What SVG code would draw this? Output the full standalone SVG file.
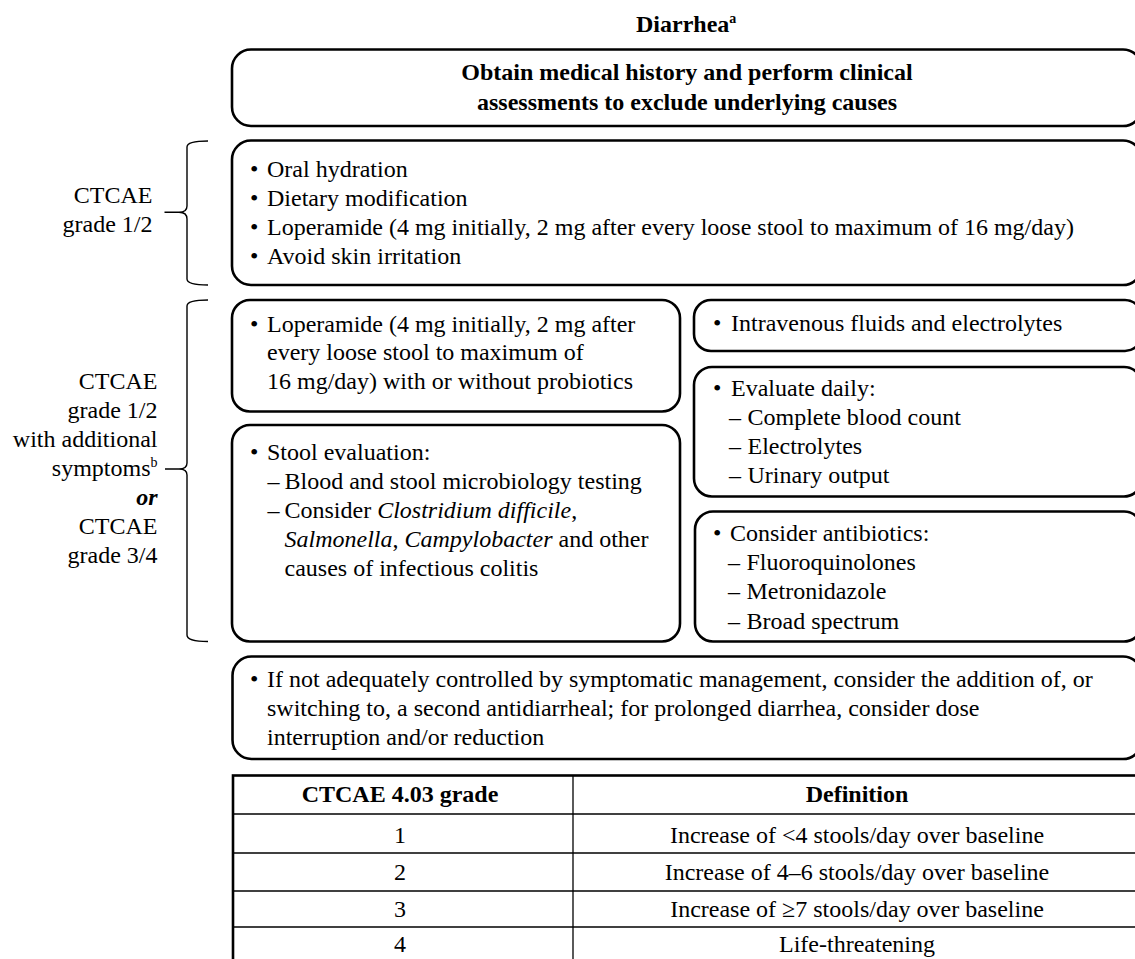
<svg xmlns="http://www.w3.org/2000/svg" width="1135" height="959" viewBox="0 0 1135 959">
<style>
text{font-family:"Liberation Serif","Times New Roman",serif;font-size:24px;fill:#000}
.b{font-weight:bold}
.c{text-anchor:middle}
.e{text-anchor:end}
.i{font-style:italic}
.box{fill:#fff;stroke:#000;stroke-width:2.6}
.br{fill:none;stroke:#000;stroke-width:1.4}
.tb{fill:none;stroke:#000;stroke-width:2.6}
.tl{stroke:#000;stroke-width:1.3}
.sup{font-size:14px}
</style>
<rect width="1135" height="959" fill="#fff"/>

<g id="title">
<text x="636" y="31.5" class="b">Diarrhea<tspan class="sup" dy="-9" font-weight="bold">a</tspan></text>
</g>

<g id="assess">
<rect class="box" x="232" y="49.5" width="910" height="76.5" rx="19"/>
<text x="687" y="80" class="b c">Obtain medical history and perform clinical</text>
<text x="687" y="109.5" class="b c">assessments to exclude underlying causes</text>
</g>

<g id="label-g12">
<text x="152.5" y="202.5" class="e">CTCAE</text>
<text x="152.5" y="232" class="e">grade 1/2</text>
</g>

<g id="grade12-box">
<rect class="box" x="232" y="140.5" width="910" height="144.5" rx="19"/>
<text x="250" y="176.7">•<tspan x="267">Oral hydration</tspan></text>
<text x="250" y="205.7">•<tspan x="267">Dietary modification</tspan></text>
<text x="250" y="234.7">•<tspan x="267">Loperamide (4 mg initially, 2 mg after every loose stool to maximum of 16 mg/day)</tspan></text>
<text x="250" y="263.7">•<tspan x="267">Avoid skin irritation</tspan></text>
</g>

<g id="label-g34">
<text x="157.5" y="388.5" class="e">CTCAE</text>
<text x="157.5" y="417.5" class="e">grade 1/2</text>
<text x="157.5" y="446.5" class="e">with additional</text>
<text x="157.5" y="475.5" class="e">symptoms<tspan class="sup" dy="-9">b</tspan></text>
<text x="157.5" y="504.5" class="e b i">or</text>
<text x="157.5" y="533.5" class="e">CTCAE</text>
<text x="157.5" y="562.5" class="e">grade 3/4</text>
</g>

<g id="loperamide-box">
<rect class="box" x="232" y="300" width="448" height="111.5" rx="18"/>
<text x="250" y="331.5">•<tspan x="267">Loperamide (4 mg initially, 2 mg after</tspan></text>
<text x="267" y="360">every loose stool to maximum of</text>
<text x="267" y="388.5">16 mg/day) with or without probiotics</text>
</g>

<g id="stool-box">
<rect class="box" x="232" y="425" width="448" height="216.5" rx="18"/>
<text x="250" y="460">•<tspan x="267">Stool evaluation:</tspan></text>
<text x="267.5" y="489">–<tspan x="284.5">Blood and stool microbiology testing</tspan></text>
<text x="267.5" y="518">–<tspan x="284.5">Consider </tspan><tspan class="i">Clostridium difficile</tspan>,</text>
<text x="284.5" y="547"><tspan class="i">Salmonella</tspan>, <tspan class="i">Campylobacter</tspan> and other</text>
<text x="284.5" y="576">causes of infectious colitis</text>
</g>

<g id="iv-box">
<rect class="box" x="694" y="300" width="448" height="51" rx="17"/>
<text x="713" y="330.7">•<tspan x="731">Intravenous fluids and electrolytes</tspan></text>
</g>

<g id="evaluate-box">
<rect class="box" x="694" y="367" width="448" height="129.5" rx="18"/>
<text x="713" y="396">•<tspan x="731">Evaluate daily:</tspan></text>
<text x="729" y="425">–<tspan x="747.5">Complete blood count</tspan></text>
<text x="729" y="454.3">–<tspan x="747.5">Electrolytes</tspan></text>
<text x="729" y="483.3">–<tspan x="747.5">Urinary output</tspan></text>
</g>

<g id="antibiotics-box">
<rect class="box" x="695" y="511.5" width="447" height="130" rx="18"/>
<text x="713" y="540.7">•<tspan x="730">Consider antibiotics:</tspan></text>
<text x="728" y="570">–<tspan x="746.5">Fluoroquinolones</tspan></text>
<text x="728" y="599.3">–<tspan x="746.5">Metronidazole</tspan></text>
<text x="728" y="629.3">–<tspan x="746.5">Broad spectrum</tspan></text>
</g>

<g id="escalation-box">
<rect class="box" x="232.5" y="656.5" width="909.5" height="102.5" rx="19"/>
<text x="250" y="686.5">•<tspan x="267">If not adequately controlled by symptomatic management, consider the addition of, or</tspan></text>
<text x="267" y="715.5">switching to, a second antidiarrheal; for prolonged diarrhea, consider dose</text>
<text x="267" y="745">interruption and/or reduction</text>
</g>

<g id="grade-table">
<rect class="tb" x="233" y="775.5" width="909" height="195"/>
<line class="tl" x1="573" y1="775.5" x2="573" y2="970"/>
<line class="tl" x1="233" y1="814" x2="1142" y2="814"/>
<line class="tl" x1="233" y1="853" x2="1142" y2="853"/>
<line class="tl" x1="233" y1="891" x2="1142" y2="891"/>
<line class="tl" x1="233" y1="927" x2="1142" y2="927"/>
<text x="400" y="801.7" class="b c">CTCAE 4.03 grade</text>
<text x="857" y="801.7" class="b c">Definition</text>
<text x="400" y="843.3" class="c">1</text>
<text x="857" y="843.3" class="c">Increase of &lt;4 stools/day over baseline</text>
<text x="400" y="880" class="c">2</text>
<text x="857" y="880" class="c">Increase of 4–6 stools/day over baseline</text>
<text x="400" y="916.7" class="c">3</text>
<text x="857" y="916.7" class="c">Increase of ≥7 stools/day over baseline</text>
<text x="400" y="951.7" class="c">4</text>
<text x="857" y="951.7" class="c">Life-threatening</text>
</g>

<g id="connectors">
<path class="br" d="M208,141 Q187,141 187,147 L187,206 Q187,212.3 179,212.3 L164.5,212.3 M179,212.3 Q187,212.3 187,219 L187,279 Q187,285 208,285"/>
<path class="br" d="M208,300 Q187,300 187,306 L187,463 Q187,469 179,469 L165,469 M179,469 Q187,469 187,475 L187,635 Q187,641.5 208,641.5"/>
</g>
</svg>
